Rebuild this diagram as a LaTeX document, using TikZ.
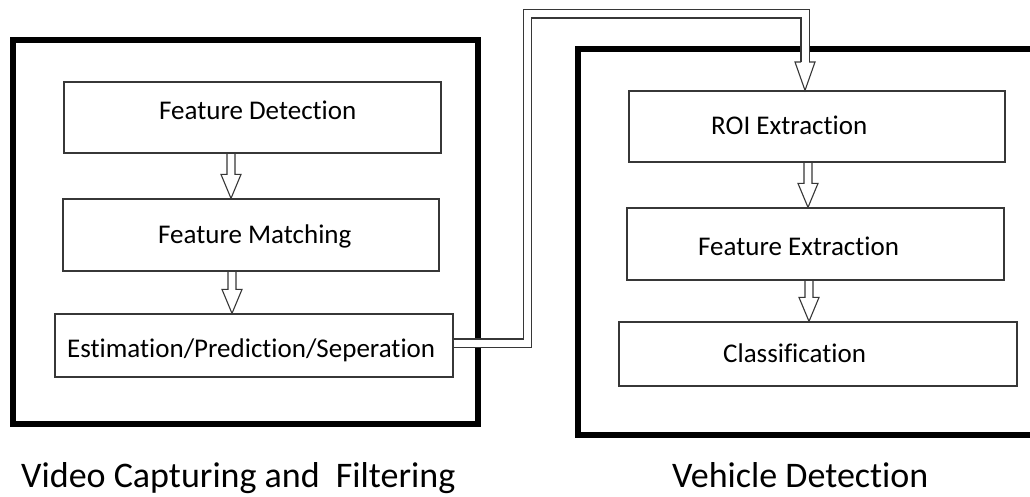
\documentclass[tikz,border=0pt]{standalone}
\usepackage{fontspec}
\setmainfont{Carlito}[RawFeature={-liga}]
\usetikzlibrary{calc}
\definecolor{lineg}{RGB}{55,55,55}
\tikzset{
  box/.style={draw=lineg, line width=1.2pt, rectangle, inner sep=0pt},
  boxtxt/.style={font=\fontsize{27}{32}\selectfont, inner sep=0pt, anchor=base west},
  frame/.style={draw=black, line width=6pt, rectangle, inner sep=0pt},
  caption/.style={font=\fontsize{36}{43}\selectfont, inner sep=0pt, anchor=base west},
  blockarrow/.style={draw=lineg, line width=1.1pt, line join=miter,
    to path={let \p1=(\tikztostart), \p2=(\tikztotarget) in
      (\x1-4pt,\y1) -- (\x1-4pt,\y2+24pt) -- (\x1-10pt,\y2+24pt) -- (\x1,\y2)
      -- (\x1+10pt,\y2+24pt) -- (\x1+4pt,\y2+24pt) -- (\x1+4pt,\y1)}},
  dblline/.style={draw=lineg, line width=1.1pt, double=white, double distance=7pt},
  headline/.style={draw=lineg, line width=1.1pt, line join=miter},
}
\begin{document}
\begin{tikzpicture}[x=1pt, y=-1pt]
\clip (0,0) rectangle (1030,497);
\fill[white] (0,0) rectangle (1030,497);

% frames
\node[frame, minimum width=464.5pt, minimum height=384pt] (leftframe) at (245.25,232) {};
\node[frame, minimum width=462.5pt, minimum height=385.5pt] (rightframe) at (808.75,241.75) {};

% boxes, left
\node[box, minimum width=377pt, minimum height=71pt] (fd) at (252.5,117.5) {};
\node[box, minimum width=376pt, minimum height=72pt] (fm) at (251,235) {};
\node[box, minimum width=398pt, minimum height=63pt] (est) at (254,345.5) {};
% boxes, right
\node[box, minimum width=376pt, minimum height=71pt] (roi) at (817,126.5) {};
\node[box, minimum width=377pt, minimum height=72pt] (fe) at (815.5,244) {};
\node[box, minimum width=398pt, minimum height=64pt] (cl) at (818,354) {};

% texts
\node[boxtxt] (fdt) at (159,120) {Feature Detection};
\node[boxtxt] (fmt) at (158,243) {Feature Matching};
\node[boxtxt] (estt) at (67,357) {Estimation/Prediction/Seperation};
\node[boxtxt] (roit) at (711,135) {ROI Extraction};
\node[boxtxt] (fet) at (698,255) {Feature Extraction};
\node[boxtxt] (clt) at (723,362) {Classification};

% captions
\node[caption] (capl) at (21,487) {Video Capturing and\hspace{8pt} Filtering};
\node[caption] (capr) at (672,487) {Vehicle Detection};

% block arrows
\coordinate (a1) at (231,0);
\coordinate (a2) at (232,0);
\coordinate (a3) at (808,0);
\coordinate (a4) at (809,0);
\draw[blockarrow] (fd.south -| a1) to (fm.north -| a1);
\draw[blockarrow] (fm.south -| a2) to (est.north -| a2);
\draw[blockarrow] (roi.south -| a3) to (fe.north -| a3);
\draw[blockarrow] (fe.south -| a4) to (cl.north -| a4);

% double connector
\coordinate (bend1) at (527.5,14);
\coordinate (hb) at (805,62);
\draw[dblline] ([yshift=2.5pt]est.east) -| (bend1) -| (hb);
\draw[headline] ([xshift=-4pt]hb) -- ([xshift=-10pt]hb) -- (hb |- roi.north)
  -- ([xshift=10pt]hb) -- ([xshift=4pt]hb);
\end{tikzpicture}
\end{document}
